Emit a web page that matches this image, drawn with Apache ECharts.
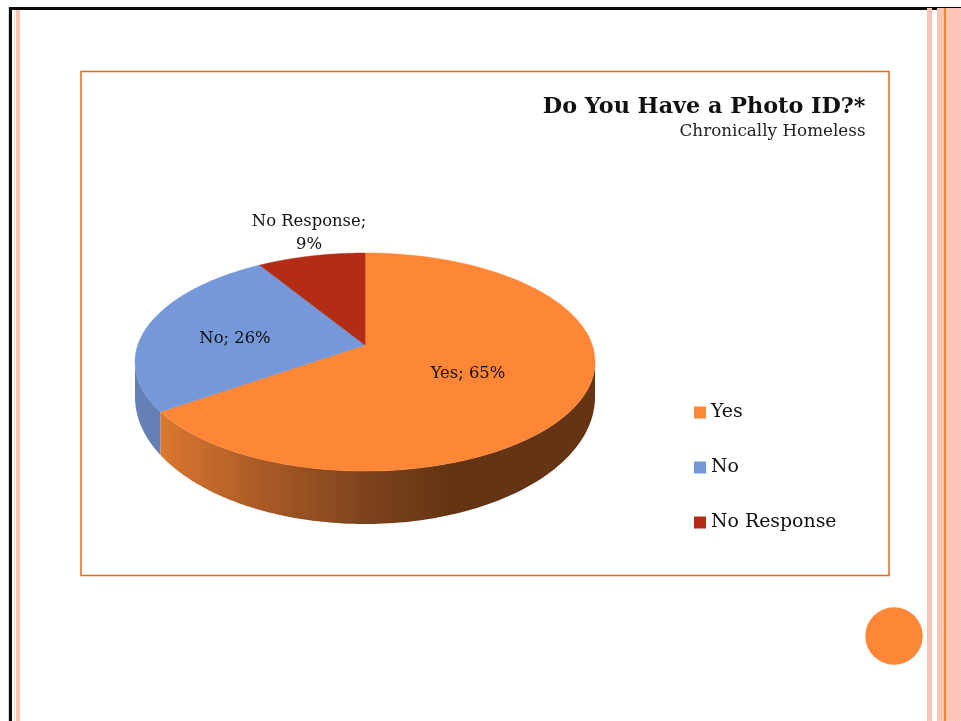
<!DOCTYPE html>
<html><head><meta charset="utf-8">
<style>html,body{margin:0;padding:0;background:#fff}#c{width:961px;height:721px}</style>
<script src="https://cdn.jsdelivr.net/npm/echarts@6/dist/echarts.min.js"></script>
</head><body><div id="c"></div>
<script>
const categories = ['Yes', 'No', 'No Response'];
const seriesValues = [65, 26, 9];
const sliceColors = ['#FE8637', '#7598D9', '#B32C16'];

const FONT = '"DejaVu Serif", serif';
const pie = {cx: 365, cy: 362, rx: 230, ry: 109, cy2: 397, ry2: 127, a: 0.09, apexLift: 17};
const labelPlaces = [{x: 468, y: 374}, {x: 235, y: 339}, {x: 309, y: 233}];
const wallStops = [
  [{offset: 0, color: '#DB7830'}, {offset: 0.35, color: '#A95A26'}, {offset: 0.72, color: '#7C421C'}, {offset: 1, color: '#653414'}],
  [{offset: 0, color: '#6480B6'}, {offset: 1, color: '#6380B4'}],
  [{offset: 0, color: '#8f2412'}, {offset: 1, color: '#8f2412'}]
];
const wallSpan = [[160, 450], [135, 165], [135, 165]];

const total = seriesValues.reduce((s, v) => s + v, 0);
function warp(t) { return t - 2 * Math.atan2(pie.a * Math.sin(t), 1 + pie.a * Math.cos(t)); }
function topPt(p) { return [pie.cx + pie.rx * Math.sin(p), pie.cy - pie.ry * Math.cos(p)]; }
function botPt(p) { return [pie.cx + pie.rx * Math.sin(p), pie.cy2 - pie.ry2 * Math.cos(p)]; }

function makeRender(idx) {
  return function (params, api) {
    const before = seriesValues.slice(0, idx).reduce((s, v) => s + v, 0);
    const t1 = before / total * 2 * Math.PI;
    const t2 = t1 + api.value(0) / total * 2 * Math.PI;
    const p1 = warp(t1), p2 = warp(t2);
    const children = [];
    const lo = Math.max(p1, Math.PI / 2), hi = Math.min(p2, 1.5 * Math.PI);
    const N = 120;
    if (hi > lo) {
      const up = [], down = [];
      for (let i = 0; i <= N; i++) {
        const p = lo + (hi - lo) * i / N;
        up.push(topPt(p));
        down.unshift(botPt(p));
      }
      children.push({
        type: 'polygon',
        shape: {points: up.concat(down)},
        style: {
          fill: new echarts.graphic.LinearGradient(wallSpan[idx][0], 0, wallSpan[idx][1], 0, wallStops[idx], true),
          stroke: null
        }
      });
    }
    const pts = [[pie.cx, pie.cy - pie.apexLift]];
    for (let i = 0; i <= N; i++) pts.push(topPt(p1 + (p2 - p1) * i / N));
    children.push({
      type: 'polygon',
      shape: {points: pts},
      style: {fill: sliceColors[idx], stroke: sliceColors[idx], lineWidth: 0.5}
    });
    let txt = categories[idx] + '; ' + api.value(0) + '%';
    if (txt.length > 12) txt = txt.replace('; ', ';\n');
    children.push({
      type: 'text', z2: 10,
      style: {
        text: txt, x: labelPlaces[idx].x, y: labelPlaces[idx].y,
        align: 'center', verticalAlign: 'middle',
        fill: '#111', font: '16.4px ' + FONT, lineHeight: 23
      }
    });
    return {type: 'group', children};
  };
}

function dots() {
  const c = document.createElement('canvas');
  c.width = c.height = 2;
  const g = c.getContext('2d');
  g.fillStyle = '#FFC0AD'; g.fillRect(0, 0, 2, 2);
  g.fillStyle = '#FFD0C3'; g.fillRect(0, 0, 1, 1);
  return c;
}
const stripe = {image: dots(), repeat: 'repeat'};
function bar(x, y, w, h, fill) {
  return {type: 'rect', shape: {x, y, width: w, height: h}, style: {fill}, silent: true};
}

const chart = echarts.init(document.getElementById('c'));
chart.setOption({
  animation: false,
  backgroundColor: '#fff',
  title: {
    text: 'Do You Have a Photo ID?*',
    subtext: 'Chronically Homeless',
    left: 865.5, top: 96, itemGap: 5, padding: 0, textAlign: 'right',
    textStyle: {fontFamily: FONT, fontSize: 22.3, fontWeight: 'bold', color: '#111'},
    subtextStyle: {fontFamily: FONT, fontSize: 16.8, color: '#222', align: 'right'}
  },
  legend: {
    orient: 'vertical', left: 694, top: 403, padding: 0,
    icon: 'rect', itemWidth: 12, itemHeight: 12, itemGap: 36,
    data: categories,
    textStyle: {fontFamily: FONT, fontSize: 18.9, color: '#111'},
    selectedMode: false
  },
  graphic: {elements: [
    bar(9, 7, 952, 3, '#0a0a0a'),
    bar(9, 7, 3, 714, '#0a0a0a'),
    bar(8, 7, 1, 714, '#d8d8d8'),
    bar(14, 10, 1, 711, '#FFD9CE'),
    bar(16, 10, 4, 711, '#FFC4B3'),
    bar(927, 8, 5, 713, stripe),
    bar(937, 8, 24, 713, stripe),
    bar(944, 8, 2, 713, '#FE8637'),
    {type: 'rect', shape: {x: 81, y: 71.5, width: 808, height: 504}, style: {fill: 'transparent', stroke: '#E36A1E', lineWidth: 1.5}, silent: true},
    {type: 'circle', shape: {cx: 894, cy: 636, r: 28.7}, style: {fill: '#FE8637'}, silent: true}
  ]},
  series: categories.map((name, i) => ({
    type: 'custom', name,
    coordinateSystem: 'none',
    itemStyle: {color: sliceColors[i]},
    data: [[seriesValues[i]]],
    renderItem: makeRender(i),
    silent: true
  }))
});
</script></body></html>
